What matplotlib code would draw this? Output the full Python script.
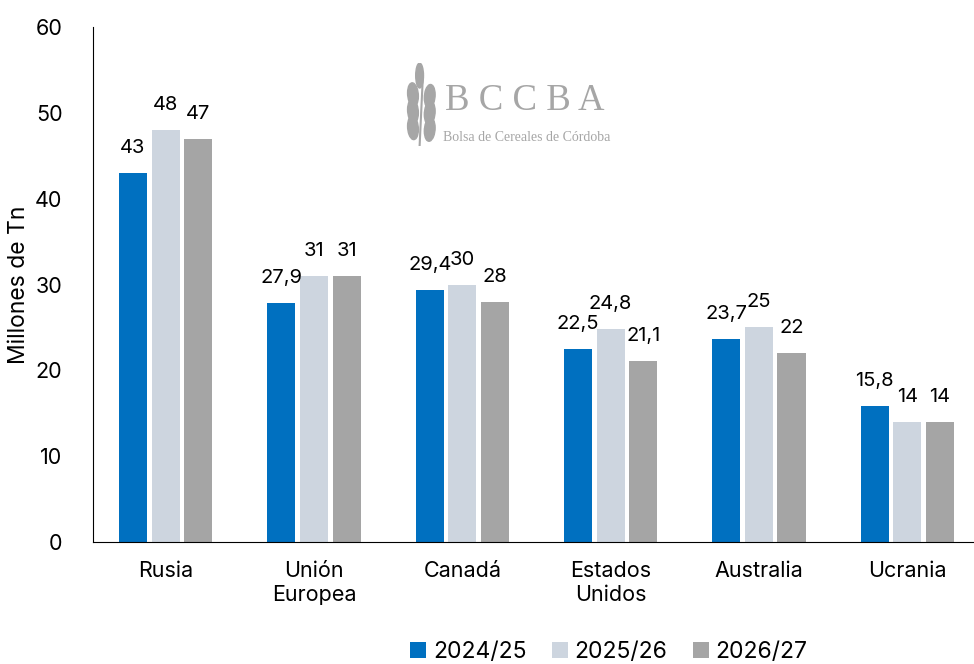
import matplotlib
matplotlib.use("Agg")
import matplotlib.pyplot as plt
import numpy as np
from matplotlib.patches import Ellipse

plt.rcParams['font.family'] = ['Inter', 'DejaVu Sans']

categories = ["Rusia", "Unión\nEuropea", "Canadá", "Estados\nUnidos", "Australia", "Ucrania"]
series_names = ["2024/25", "2025/26", "2026/27"]
v2024 = [43, 27.9, 29.4, 22.5, 23.7, 15.8]
v2025 = [48, 31, 30, 24.8, 25, 14]
v2026 = [47, 31, 28, 21.1, 22, 14]
labels2024 = ["43", "27,9", "29,4", "22,5", "23,7", "15,8"]
labels2025 = ["48", "31", "30", "24,8", "25", "14"]
labels2026 = ["47", "31", "28", "21,1", "22", "14"]
colors = ["#0070C0", "#CDD5DF", "#A5A5A5"]

fig = plt.figure(figsize=(9.74, 6.64), dpi=100)
ax = fig.add_axes([0.0955, 0.1837, 0.9045, 0.7756])

x = np.arange(len(categories))
w = 0.19
step = 0.22
for i, (vals, labs) in enumerate(zip([v2024, v2025, v2026], [labels2024, labels2025, labels2026])):
    bars = ax.bar(x + (i - 1) * step, vals, width=w, color=colors[i], label=series_names[i])
    ax.bar_label(bars, labels=labs, padding=11.5, fontsize=14.5, color="#000000")

ax.set_xlim(-0.49, 5.45)
ax.set_ylim(0, 60)
ax.set_yticks(range(0, 61, 10))
ax.set_xticks(x)
ax.set_xticklabels(categories, fontsize=15.5, linespacing=1.25)
ax.tick_params(axis='both', length=0, labelsize=15.5)
ax.tick_params(axis='x', pad=14)
ax.tick_params(axis='y', pad=22)
for s in ["top", "right"]:
    ax.spines[s].set_visible(False)
ax.spines["left"].set_color("#000000")
ax.spines["bottom"].set_color("#000000")
ax.spines["left"].set_linewidth(0.8)
ax.spines["bottom"].set_linewidth(0.8)
ax.set_ylabel("Millones de Tn", fontsize=16.5, labelpad=4)

leg = fig.legend(loc="lower center", bbox_to_anchor=(0.625, -0.03), ncol=3, frameon=False,
                 fontsize=16.5, handlelength=0.7, handleheight=0.7, handletextpad=0.3, columnspacing=1.1)

# logo
logo_color = "#A6A6A6"
fig.text(0.457, 0.848, "B C C B A", fontsize=26.5, family="Liberation Serif", color=logo_color, ha="left", va="center")
fig.text(0.455, 0.793, "Bolsa de Cereales de Córdoba", fontsize=10, family="Liberation Serif", color=logo_color, ha="left", va="center")
lax = fig.add_axes([0.414, 0.78, 0.04, 0.125])
lax.set_xlim(0, 1)
lax.set_ylim(0, 1)
lax.axis("off")
for k, yy in enumerate([0.22, 0.42, 0.62]):
    lax.add_patch(Ellipse((0.25, yy), 0.26, 0.3, angle=40, color=logo_color))
    lax.add_patch(Ellipse((0.68, yy - 0.02), 0.26, 0.3, angle=-40, color=logo_color))
lax.add_patch(Ellipse((0.42, 0.85), 0.2, 0.3, angle=0, color=logo_color))
lax.plot([0.42, 0.5], [0.0, 0.8], color=logo_color, lw=1.5)

fig.savefig("out.png", dpi=100)
